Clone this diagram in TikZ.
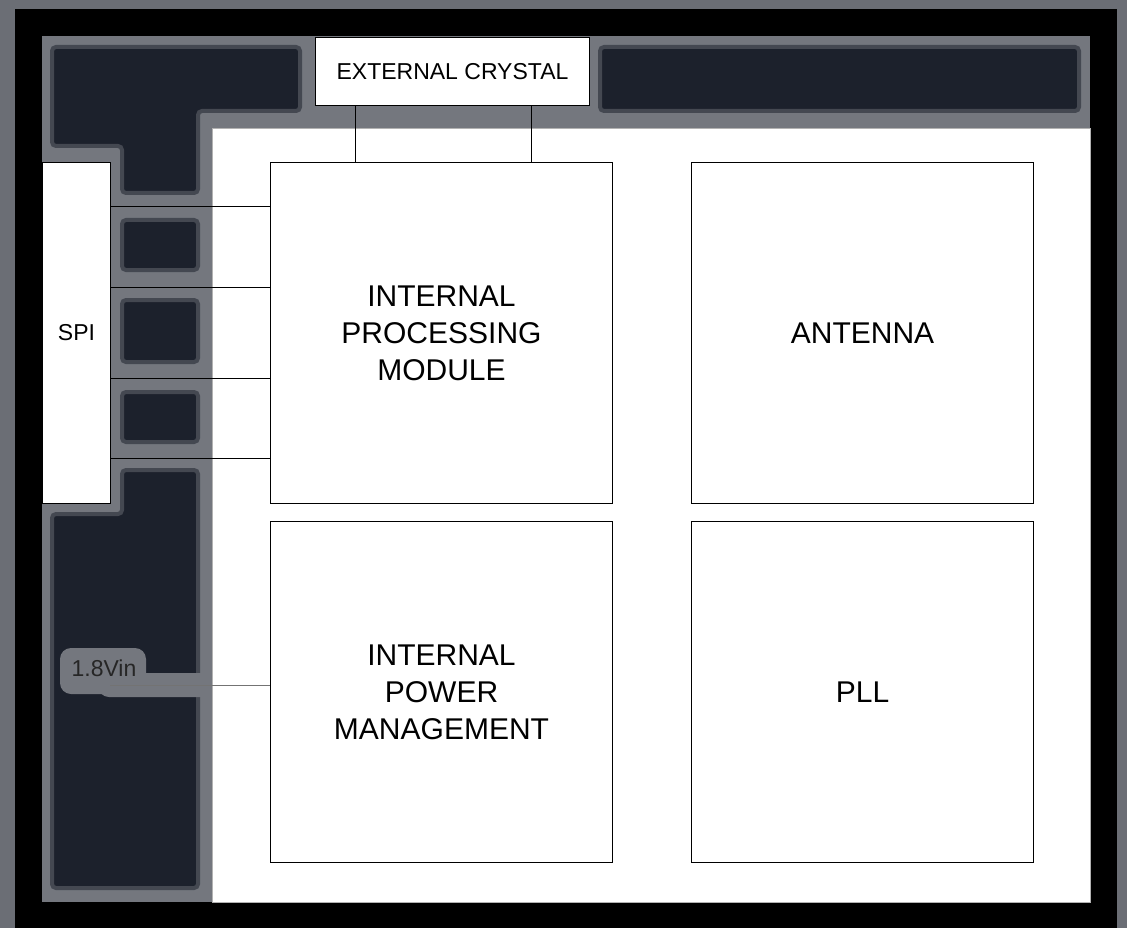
\documentclass[tikz,border=0pt]{standalone}
\usepackage{fontspec}
\setmainfont{Liberation Sans}
\definecolor{rim}{HTML}{6B6E75}
\definecolor{padgray}{HTML}{74777E}
\definecolor{navy}{HTML}{1C212C}
\tikzset{
  blk/.style={draw,fill=white,line width=1pt,inner sep=0pt,align=center,anchor=north west,
    minimum width=342pt,minimum height=341pt,font=\fontsize{30}{37}\selectfont},
  small/.style={font=\fontsize{23}{28}\selectfont},
  blob/.style={fill=navy,draw=navy!55!padgray,line width=4pt,rounded corners=4pt},
  gap/.style={fill=padgray,rounded corners=11pt},
  wire/.style={line width=1pt}
}
\begin{document}
\begin{tikzpicture}[x=1pt,y=-1pt]
	\useasboundingbox (0,0) rectangle (1127,928);
	\fill[rim] (0,0) rectangle (1127,928);
	\fill[black] (15,9) rectangle (1117,928);
	\fill[padgray] (42,36) rectangle (1090,902);
	% dark pads
	\draw[blob] (52,47) -- (300,47) -- (300,111) -- (198,111) -- (198,193) -- (122,193) -- (122,146) -- (52,146) -- cycle;
	\draw[blob] (600,47) rectangle (1079,111);
	\foreach \a/\b in {220/270,300/362,392/442}
		\draw[blob] (122,\a) rectangle (198,\b);
	\draw[blob] (122,470) -- (198,470) -- (198,888) -- (52,888) -- (52,514) -- (122,514) -- cycle;
	\fill[gap] (60,648) rectangle (146,694);
	\fill[gap] (98,673) rectangle (212,697);
	% chip
	\draw[fill=white,draw=gray!60] (212,128) rectangle (1090,902);
	\node[draw,fill=white,line width=1pt,minimum width=274pt,minimum height=68pt,anchor=north west,small] (xtal) at (315,37) {EXTERNAL CRYSTAL};
	\node[draw,fill=white,line width=1pt,minimum width=68pt,minimum height=341pt,anchor=north west,small] (spi) at (42,162) {SPI};
	\node[blk] (ipm) at (270,162) {INTERNAL\\PROCESSING\\MODULE};
	\node[blk] (ant) at (691,162) {ANTENNA};
	\node[blk] (pwr) at (270,521) {INTERNAL\\POWER\\MANAGEMENT};
	\node[blk] (pll) at (691,521) {PLL};
	\node[small,text=black!85] (vin) at (104,668) {1.8Vin};
	\coordinate (vinend) at (110,685);
	% connectors
	\foreach \x in {355,531}
		\draw[wire] (xtal.south -| \x,0) -- (ipm.north -| \x,0);
	\foreach \y in {207,287,378,458}
		\draw[wire] (spi.east |- 0,\y) -- (ipm.west |- 0,\y);
	\draw[wire,black!55] (vinend) -- (vinend -| pwr.west);
\end{tikzpicture}
\end{document}
